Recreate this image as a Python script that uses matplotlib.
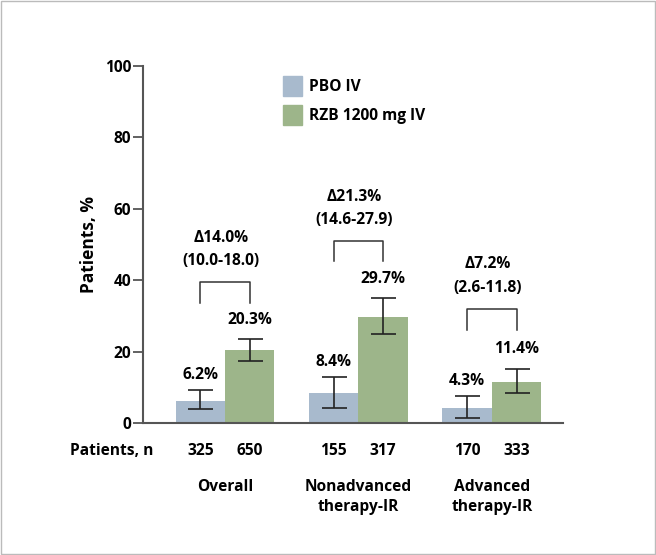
import matplotlib.pyplot as plt
from matplotlib.patches import Patch, Rectangle

plt.rcParams['font.family'] = ['Open Sans', 'DejaVu Sans']
plt.rcParams['font.weight'] = 'bold'

# data
groups = ['Overall', 'Nonadvanced\ntherapy-IR', 'Advanced\ntherapy-IR']
pbo = [6.2, 8.4, 4.3]
rzb = [20.3, 29.7, 11.4]
pbo_lo = [3.8, 4.3, 1.5]
pbo_hi = [9.2, 13.0, 7.5]
rzb_lo = [17.4, 24.9, 8.5]
rzb_hi = [23.4, 34.9, 15.2]
pbo_n = [325, 155, 170]
rzb_n = [650, 317, 333]
deltas = ['\u039414.0%', '\u039421.3%', '\u03947.2%']
delta_ci = ['(10.0-18.0)', '(14.6-27.9)', '(2.6-11.8)']
bracket_top = [39.4, 51.0, 32.0]
bracket_leg = [33.7, 45.3, 26.1]

pbo_color = '#a8bacd'
rzb_color = '#9db58a'
axis_color = '#555555'

fig = plt.figure(figsize=(6.56, 5.55), dpi=100)
ax = fig.add_axes([0.218, 0.238, 0.640, 0.643])

w = 0.37
x = list(range(len(groups)))
xp = [i - w / 2 for i in x]
xr = [i + w / 2 for i in x]

ax.bar(xp, pbo, width=w, color=pbo_color)
ax.bar(xr, rzb, width=w, color=rzb_color)

for xs, v, lo, hi in [(xp, pbo, pbo_lo, pbo_hi), (xr, rzb, rzb_lo, rzb_hi)]:
    ax.errorbar(xs, v, yerr=[[a - b for a, b in zip(v, lo)], [b - a for a, b in zip(v, hi)]],
                fmt='none', ecolor='#222222', elinewidth=1.2, capsize=9, capthick=1.2)

fs = 11.2
# value labels
for i in x:
    ax.text(xp[i], pbo_hi[i] + 4.2, f'{pbo[i]}%', ha='center', va='center', fontsize=fs)
    ax.text(xr[i], rzb_hi[i] + 5.5, f'{rzb[i]}%', ha='center', va='center', fontsize=fs)
    # bracket
    ax.plot([xp[i], xp[i], xr[i], xr[i]],
            [bracket_leg[i], bracket_top[i], bracket_top[i], bracket_leg[i]],
            color='#333333', lw=1.1)
    ax.text(i - 0.03, bracket_top[i] + 12.4, deltas[i], ha='center', va='center', fontsize=fs)
    ax.text(i - 0.03, bracket_top[i] + 5.9, delta_ci[i], ha='center', va='center', fontsize=fs)

ax.set_ylim(0, 100)
ax.set_xlim(-0.614, 2.532)
ax.set_yticks([0, 20, 40, 60, 80, 100])
ax.set_xticks([])
ax.tick_params(axis='y', length=7, width=1.3, color=axis_color, labelsize=fs, pad=1.5)
for lbl in ax.get_yticklabels():
    lbl.set_fontweight('bold')
ax.spines['top'].set_visible(False)
ax.spines['right'].set_visible(False)
for s in ['left', 'bottom']:
    ax.spines[s].set_color(axis_color)
    ax.spines[s].set_linewidth(1.5)
ax.set_ylabel('Patients, %', fontsize=12.5, fontweight='bold', labelpad=5)

# patients row and group labels
tr = ax.get_xaxis_transform()
ax.text(-0.535, -0.08, 'Patients, n', transform=tr, ha='right', va='center', fontsize=fs)
for i in x:
    ax.text(xp[i], -0.08, str(pbo_n[i]), transform=tr, ha='center', va='center', fontsize=fs)
    ax.text(xr[i], -0.08, str(rzb_n[i]), transform=tr, ha='center', va='center', fontsize=fs)
    ax.text(i, -0.158, groups[i], transform=tr, ha='center', va='top', fontsize=fs,
            linespacing=1.3)

handles = [Patch(color=pbo_color, label='PBO IV'), Patch(color=rzb_color, label='RZB 1200 mg IV')]
ax.legend(handles=handles, loc='upper left', bbox_to_anchor=(0.3, 1.012), frameon=False,
          fontsize=fs, handlelength=1.2, handleheight=1.6, labelspacing=0.6, handletextpad=0.5)

fig.add_artist(Rectangle((0.002, 0.002), 0.996, 0.996, transform=fig.transFigure,
                         fill=False, edgecolor='#bbbbbb', lw=1))

plt.savefig('out.png', dpi=100)
